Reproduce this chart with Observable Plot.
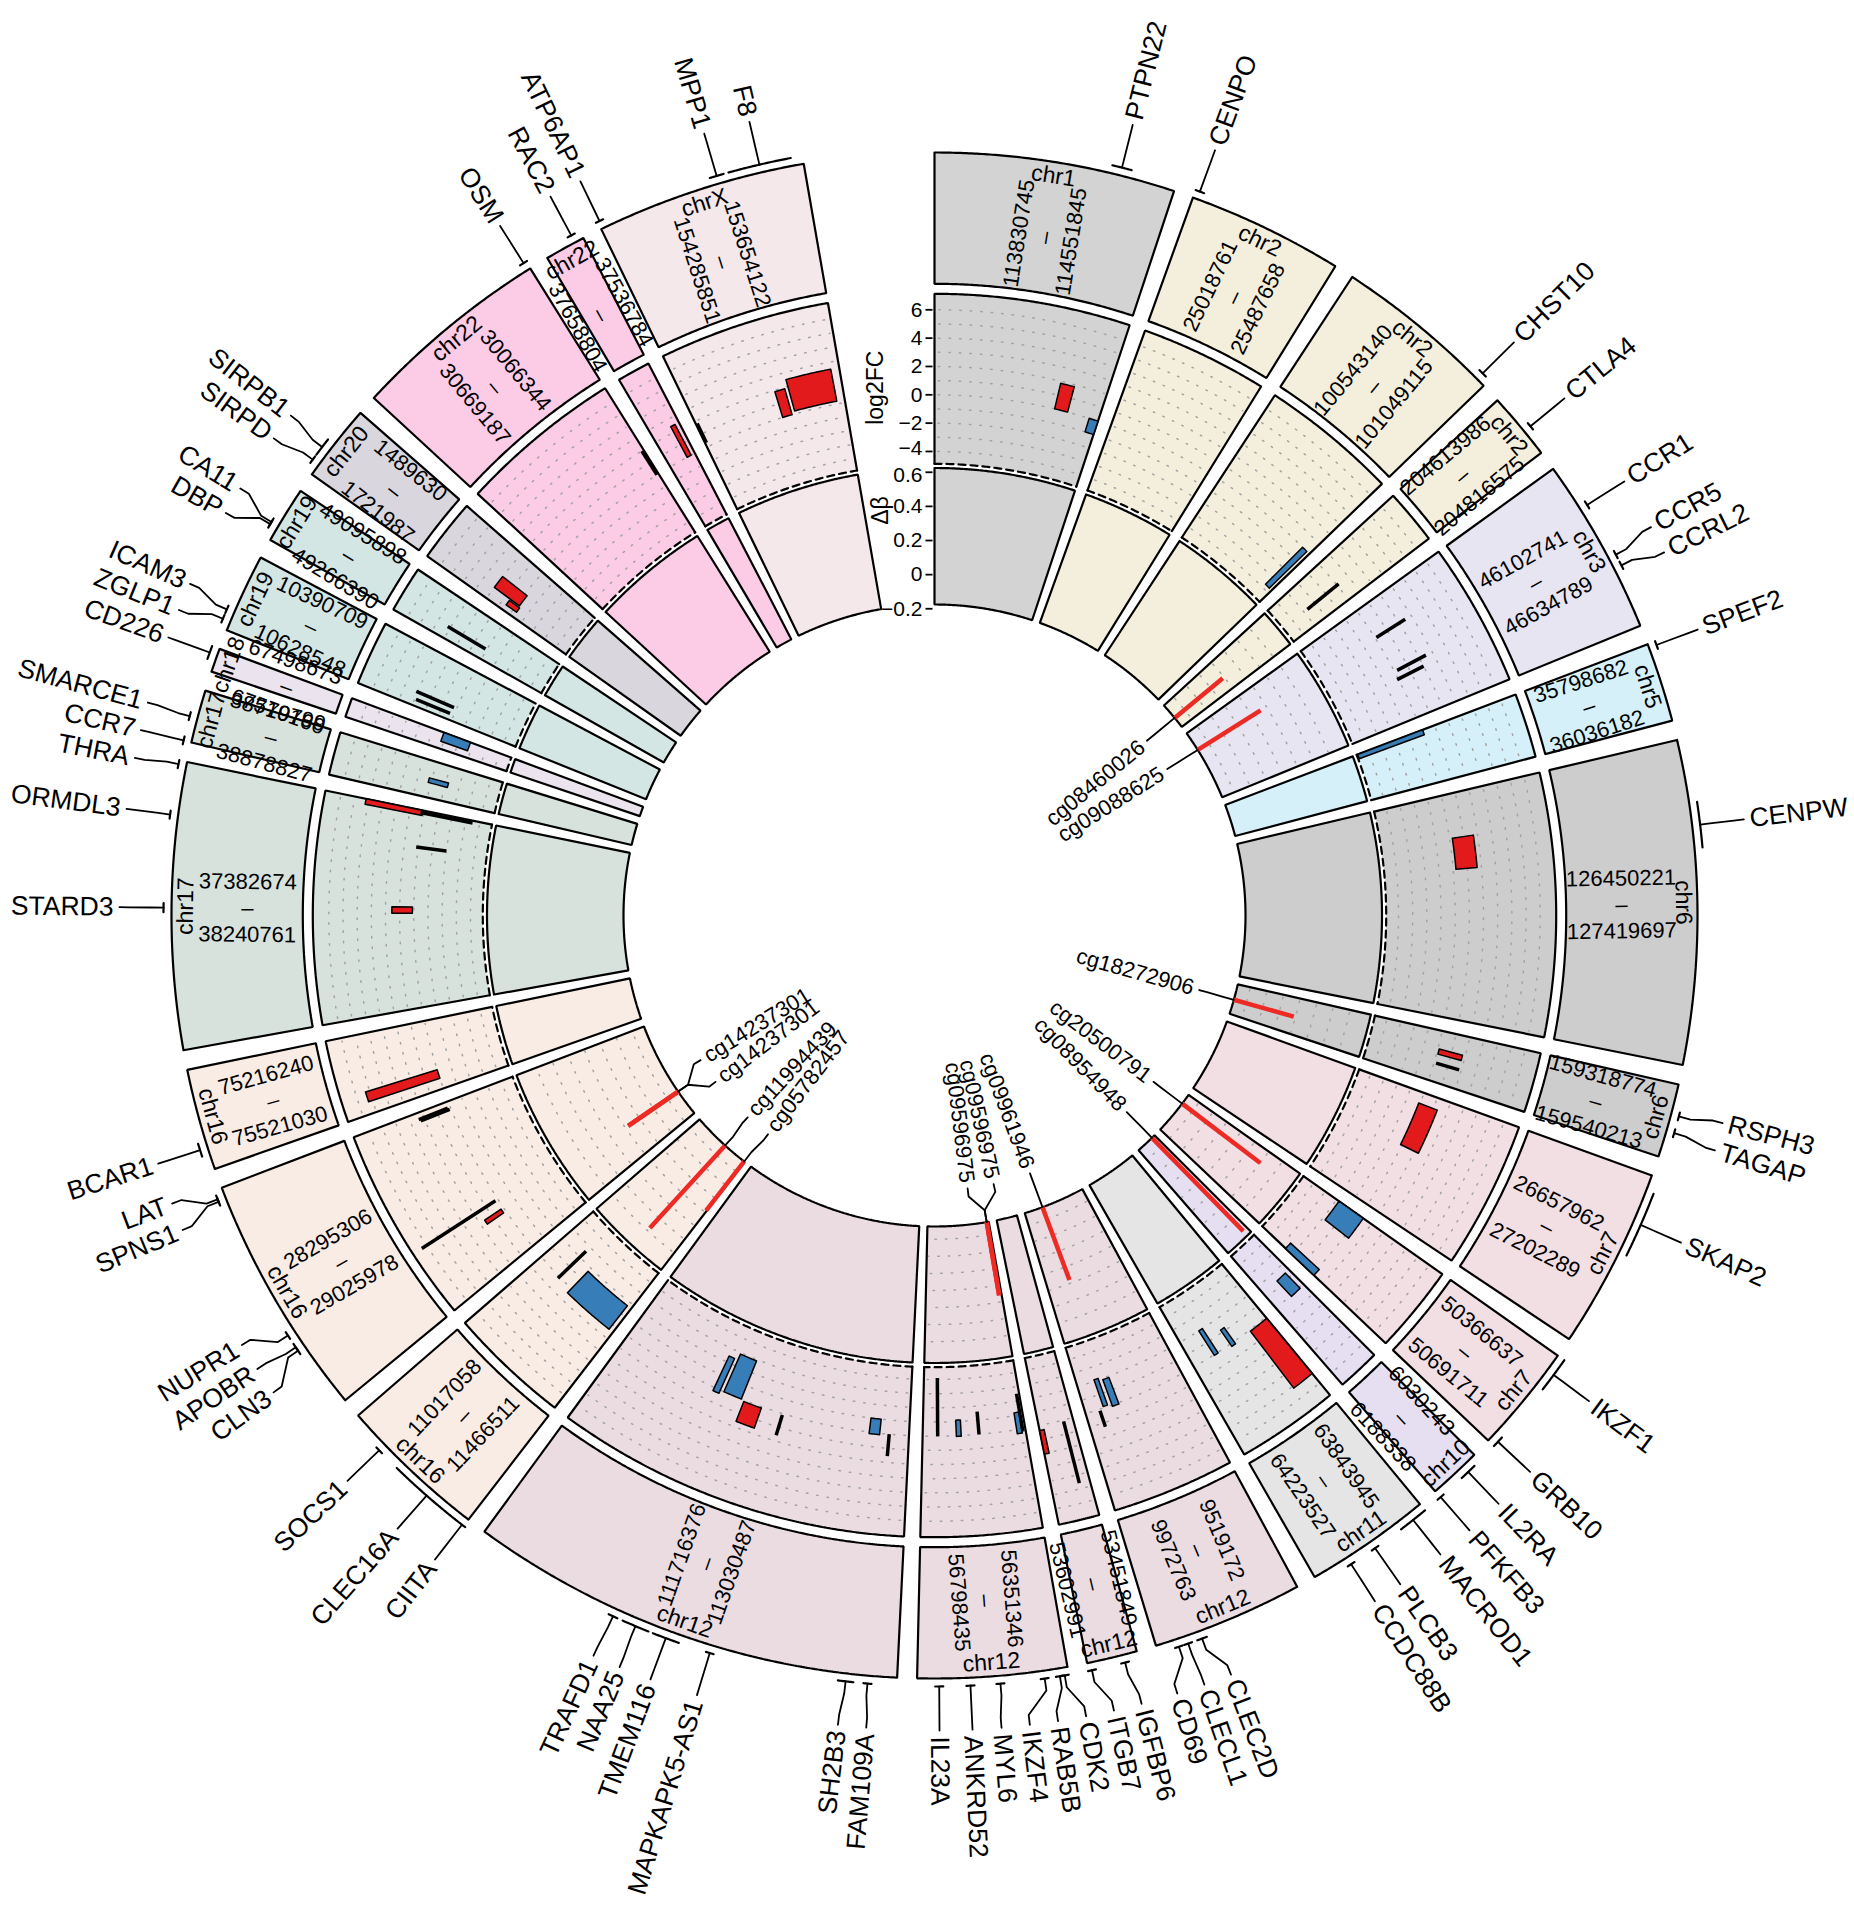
<!DOCTYPE html>
<html>
<head>
<meta charset="utf-8">
<script src="https://cdn.jsdelivr.net/npm/d3@7"></script>
<script src="https://cdn.jsdelivr.net/npm/@observablehq/plot@0.6"></script>
<style>
html,body{margin:0;padding:0;background:#fff;}
#chart svg{display:block;}
</style>
</head>
<body>
<div id="chart"></div>
<script>
// ================= DATA =================
// genomic sectors (ideogram track), clockwise from the top
const sectorChr = ["chr1","chr2","chr2","chr2","chr3","chr5","chr6","chr6","chr7","chr7","chr10","chr11","chr12","chr12","chr12","chr12","chr16","chr16","chr16","chr17","chr17","chr18","chr19","chr19","chr20","chr22","chr22","chrX"];
const sectorStart = [113830745,25018761,100543140,204613986,46102741,35798682,126450221,159318774,26657962,50366637,6030243,63843945,9519172,53451849,56351346,111716376,11017058,28295306,75216240,37382674,38719799,67498673,10390709,49095898,1489630,30066344,37536784,153654122];
const sectorEnd = [114551845,25487658,101049115,204816575,46634789,36036182,127419697,159540213,27202289,50691711,6188338,64223527,9972763,53602991,56798435,113030487,11466511,29025978,75521030,38240761,38878827,67570160,10628548,49266390,1721987,30669187,37658804,154285851];

// gene labels (outside)
const geneName = ["PTPN22","CENPO","CHST10","CTLA4","CCR1","CCR5","CCRL2","SPEF2","CENPW","RSPH3","TAGAP","SKAP2","IKZF1","GRB10","IL2RA","PFKFB3","MACROD1","PLCB3","CCDC88B","CLEC2D","CLECL1","CD69","IGFBP6","ITGB7","CDK2","RAB5B","IKZF4","MYL6","ANKRD52","IL23A","FAM109A","SH2B3","MAPKAPK5-AS1","TMEM116","NAA25","TRAFD1","CIITA","CLEC16A","SOCS1","CLN3","APOBR","NUPR1","SPNS1","LAT","BCAR1","STARD3","ORMDL3","THRA","CCR7","SMARCE1","CD226","ZGLP1","ICAM3","DBP","CA11","SIRPD","SIRPB1","OSM","RAC2","ATP6AP1","MPP1","F8"];
const geneSector = [0,1,2,3,4,4,4,5,6,7,7,8,9,9,10,10,11,11,11,12,12,12,13,13,14,14,14,14,14,14,15,15,15,15,15,15,16,16,16,17,17,17,17,17,18,19,19,19,20,20,21,22,22,23,23,24,24,25,26,27,27,27];
const geneStart = [114356433,25018761,101007575,204732509,46243198,46411633,46448755,35798682,126640000,159398266,159455462,26706880,50366637,50657760,6052652,6186881,63843945,64019000,64107000,9822284,9875431,9905082,53491000,53585102,56360553,56367000,56414000,56551000,56631000,56732000,111798458,111843752,112267000,112369000,112464000,112563000,11017058,11038345,11348000,28488000,28505000,28548000,28985542,28995869,75262928,37793318,38077000,38219067,38719799,38783972,67530192,10415474,10444457,49133297,49139135,1515000,1544548,30658818,37621306,153656000,154006959,154064063];
const geneEnd = [114414381,25045245,101034008,204738683,46249887,46417697,46451678,35821210,126775000,159421220,159466184,26904177,50472799,50691711,6104333,6188338,63933587,64036000,64117000,9852234,9885616,9913497,53496000,53601000,56366568,56389000,56432000,56556000,56652000,56734000,111806166,111889427,112280000,112450000,112546000,112591000,11028549,11276046,11350000,28503000,28510000,28550000,28995869,29001413,75301951,37819737,38083000,38240761,38721738,38804104,67570160,10419942,10450429,49138895,49147699,1538000,1600563,30662829,37640305,153664000,154049282,154250998];

// log2FC track: boxes spanning a genomic range, from low to high log2FC
const rectSector = [0,0,2,5,6,7,8,9,9,10,11,11,11,12,12,13,14,14,15,15,15,15,16,17,18,19,19,20,21,24,24,26,27,27];
const rectStart = [114356433,114512000,101007575,35798682,126640000,159398266,26706880,50366637,50657760,6052652,63843945,64019000,64107000,9822284,9875431,53585102,56367000,56631000,111843752,112369000,112464000,112563000,11038345,28488000,75262928,37793318,38219067,38783972,67530192,1515000,1544548,37621306,154006959,154064063];
const rectEnd = [114414381,114551845,101034008,35821210,126775000,159421220,26904177,50472799,50691711,6104333,63933587,64036000,64117000,9852234,9885616,53601000,56389000,56652000,111889427,112450000,112546000,112591000,11276046,28503000,75301951,37819737,38240761,38804104,67570160,1538000,1600563,37640305,154049282,154250998];
const rectLow = [0,-1.0,-3.7,-4.8,0.2,0.1,-0.1,-1.8,-2.6,-1.4,0.1,-1.2,-2.0,-1.9,-2.1,0.35,-1.2,-1.1,-1.0,0.1,-2.9,-2.45,-1.7,0.2,0,0.1,0.1,-1.2,-1.8,-0.3,-0.2,0,0,0.2];
const rectHigh = [1.85,0,0,0.1,1.7,1.8,1.3,0.3,0.15,0.1,5.15,0.2,0.05,0.1,-0.1,2.05,0.3,0.05,0.1,1.6,0,0.25,0.4,1.6,5.3,1.55,4.2,0.2,0.2,0.6,2.0,2.45,1.9,2.5];

// log2FC track: thin black segments at one position, from low to high
const barSector = [3,4,4,4,7,12,13,14,14,14,15,15,16,17,17,17,19,19,22,22,23,25,27];
const barPos = [204735600,46246500,46414600,46450200,159460800,9909300,53493500,56363500,56553500,56733000,111802300,112273500,11349000,28549000,28990700,28998600,38080000,38230000,10417700,10447400,49143400,30660800,153660000];
const barLow = [-2.7,0.1,0.2,-0.1,0.15,0.1,0.1,-2.5,-1.6,-4.1,0,0.1,-2.6,0.2,0.1,0.2,-2.0,-3.5,0.3,0.2,0.1,0,0.3];
const barHigh = [0.15,2.5,2.5,2.0,1.85,1.3,4.6,0.2,0,0,1.55,1.6,0.15,6.4,2.3,2.4,0.15,0.25,2.9,3.1,3.2,2.0,1.8];

// delta-beta track: CpG probes
const probeName = ["cg08460026","cg09088625","cg18272906","cg20500791","cg08954948","cg09961946","cg09596975","cg09596975","cg05782457","cg11994439","cg14237301","cg14237301"];
const probeSector = [3,4,7,9,10,12,14,14,16,16,17,17];
const probePos = [204733000,46247000,159434000,50445000,6056000,9837000,56366000,56366000,11020000,11201000,28491000,28491000];
const probeDelta = [0.19,0.26,0.19,0.40,0.59,0.28,0.26,0.26,0.19,0.48,0.18,0.18];

// axis ticks and grid
const fcTicks = [-4,-2,0,2,4,6];
const dbTicks = [-0.2,0,0.2,0.4,0.6];
const fcGrid = [-4,-3,-2,-1,0,1,2,3,4,5,6];
const dbGrid = [-0.1,0,0.1,0.2,0.3,0.4,0.5];

// ================= STYLE / LAYOUT =================
const chrFill = {chr1:"#d3d3d3",chr2:"#f4efdc",chr3:"#e7e5f1",chr5:"#d5f0f8",chr6:"#cdcdcd",chr7:"#f1dfe3",chr10:"#e6dff2",chr11:"#e5e5e5",chr12:"#eadce1",chr16:"#f8ece5",chr17:"#d8e2dd",chr18:"#ebe3ed",chr19:"#d3e6e4",chr20:"#d9d7dd",chr22:"#fccbe6",chrX:"#f4e8eb"};
const RED = "#e31a1c", BLUE = "#377eb8", LINE_RED = "#ee2a24";
const FONT = "Liberation Sans, Arial, Helvetica, sans-serif";
const W = 1854, H = 1920, CX = 934, CY = 915;
const R_IDEO = [631.7, 763], R_FC = [451.7, 621.7], R_DB = [311, 447.5];
const FC_LIM = [-4.87, 7.13], DB_LIM = [-0.175, 0.625];
const GAP = 1.5, BIG_GAP = 9.87, START_DEG = 0;

const fcR = d3.scaleLinear(FC_LIM, R_FC);
const dbR = d3.scaleLinear(DB_LIM, R_DB);

const nSec = sectorChr.length;
const secLen = sectorStart.map((s, i) => sectorEnd[i] - s);
const degPerBp = (360 - BIG_GAP - GAP * (nSec - 1)) / d3.sum(secLen);
const secT0 = [];
{ let acc = START_DEG; for (let i = 0; i < nSec; i++) { secT0.push(acc); acc += secLen[i] * degPerBp + GAP; } }
const secT1 = secT0.map((t, i) => t + secLen[i] * degPerBp);
const theta = (i, pos) => secT0[i] + (pos - sectorStart[i]) * degPerBp;

function xy(t, r) { const a = t * Math.PI / 180; return [CX + r * Math.sin(a), CY - r * Math.cos(a)]; }
function arcPts(t0, t1, r, step = 0.2) {
  const n = Math.max(2, Math.ceil(Math.abs(t1 - t0) / step) + 1);
  return d3.range(n).map(k => xy(t0 + (t1 - t0) * k / (n - 1), r));
}
function annulus(t0, t1, r0, r1) {
  const p = [...arcPts(t0, t1, r1), ...arcPts(t1, t0, r0)];
  p.push(p[0]);
  return p;
}
function push(arr, id, pts, extra = {}) { pts.forEach(p => arr.push({id, x: p[0], y: p[1], ...extra})); }

// sector boxes
const fillRows = [], solidRows = [], dashRows = [], gridRows = [];
const probeSectors = new Set(probeSector);
for (let i = 0; i < nSec; i++) {
  const t0 = secT0[i], t1 = secT1[i], fill = chrFill[sectorChr[i]];
  const ideo = annulus(t0, t1, R_IDEO[0], R_IDEO[1]);
  push(fillRows, "i" + i, ideo, {fill}); push(solidRows, "i" + i, ideo);
  const fc = annulus(t0, t1, R_FC[0], R_FC[1]);
  push(fillRows, "f" + i, fc, {fill});
  push(solidRows, "f" + i, [xy(t0, R_FC[0]), ...arcPts(t0, t1, R_FC[1]), xy(t1, R_FC[0])]);
  push(dashRows, "fd" + i, arcPts(t0, t1, R_FC[0]));
  const db = annulus(t0, t1, R_DB[0], R_DB[1]);
  push(fillRows, "d" + i, db, {fill}); push(solidRows, "d" + i, db);
  fcGrid.forEach(v => push(gridRows, `gf${i}_${v}`, arcPts(t0 + 0.4, t1 - 0.3, fcR(v), 0.1)));
  if (probeSectors.has(i)) dbGrid.forEach(v => push(gridRows, `gd${i}_${v}`, arcPts(t0 + 0.4, t1 - 0.3, dbR(v), 0.1)));
}

// log2FC boxes
const rectRows = [];
rectSector.forEach((s, j) => {
  let t0 = theta(s, rectStart[j]), t1 = theta(s, rectEnd[j]);
  if (t1 - t0 < 0.5) { const m = (t0 + t1) / 2; t0 = m - 0.25; t1 = m + 0.25; }
  const fill = (rectHigh[j] + rectLow[j]) >= 0 ? RED : BLUE;
  push(rectRows, "r" + j, annulus(t0, t1, fcR(rectLow[j]), fcR(rectHigh[j])), {fill});
});
// black segments
const barRows = [];
barSector.forEach((s, j) => {
  const t = theta(s, barPos[j]);
  push(barRows, "b" + j, [xy(t, fcR(barLow[j])), xy(t, fcR(barHigh[j]))]);
});
// delta-beta lines (from the bottom of the track)
const probeRows = [];
probeSector.forEach((s, j) => {
  const t = theta(s, probePos[j]);
  push(probeRows, "p" + j, [xy(t, R_DB[0]), xy(t, dbR(probeDelta[j]))]);
});

// label spreading
function spread(targets, minSep) {
  const pos = targets.slice();
  for (let it = 0; it < 2000; it++) {
    let moved = false;
    for (let i = 1; i < pos.length; i++) {
      const d = pos[i] - pos[i - 1];
      if (d < minSep - 1e-6) { const s = (minSep - d) / 2 + 1e-4; pos[i - 1] -= s; pos[i] += s; moved = true; }
    }
    if (!moved) break;
  }
  return pos;
}

// outer gene labels
const geneIdx = d3.range(geneName.length);
const gT = geneIdx.map(g => theta(geneSector[g], (geneStart[g] + geneEnd[g]) / 2));
geneIdx.sort((a, b) => gT[a] - gT[b]);
const gL = spread(geneIdx.map(g => gT[g]), 2.0);
const connRows = [], spanRows = [], outerText = [];
geneIdx.forEach((g, k) => {
  const tt = gT[g], tl = gL[k];
  let a0 = theta(geneSector[g], geneStart[g]), a1 = theta(geneSector[g], geneEnd[g]);
  if (a1 - a0 < 0.6) { a0 = tt - 0.3; a1 = tt + 0.3; }
  push(spanRows, "s" + g, arcPts(a0, a1, 771, 0.1));
  push(connRows, "c" + g, [xy(tt, 771), xy(tt, 783), xy(tl, 805), xy(tl, 815)]);
  const [x, y] = xy(tl, 821);
  const right = tl < 180;
  outerText.push({x, y, label: geneName[g], rot: right ? tl - 90 : tl - 270, anchor: right ? "start" : "end"});
});

// inner probe labels
const probeIdx = d3.range(probeName.length);
const pT = probeIdx.map(p => theta(probeSector[p], probePos[p]));
probeIdx.sort((a, b) => pT[a] - pT[b]);
const pL = spread(probeIdx.map(p => pT[p]), 5.5);
const innerConn = [], innerText = [];
probeIdx.forEach((p, k) => {
  const tt = pT[p], tl = pL[k];
  push(innerConn, "ic" + k, [xy(tt, 311), xy(tt, 299), xy(tl, 283), xy(tl, 275)]);
  const [x, y] = xy(tl, 269);
  const right = tl < 180;
  innerText.push({x, y, label: probeName[p], rot: right ? tl - 90 : tl - 270, anchor: right ? "end" : "start"});
});

// ideogram texts
const rangeText = [], chrText = [];
for (let i = 0; i < nSec; i++) {
  const tm = (secT0[i] + secT1[i]) / 2;
  const [x, y] = xy(tm, 687);
  rangeText.push({x, y, label: `${sectorStart[i]}\n–\n${sectorEnd[i]}`, rot: tm < 180 ? tm - 90 : tm - 270});
  const [cx, cy] = xy(tm, 749);
  chrText.push({x: cx, y: cy, label: sectorChr[i], rot: (tm > 90 && tm < 270) ? tm - 180 : tm});
}

// y axes at the start of the first sector
const fmt = v => (v < 0 ? "\u2212" : "") + String(Math.abs(v));
const tickRows = [], tickText = [];
const fcMin = d3.min(fcTicks), dbMax = d3.max(dbTicks);
fcTicks.forEach(v => { const [x, y] = xy(0, fcR(v)); tickRows.push({x1: x - 9, x2: x - 2, y}); tickText.push({x: x - 12, y: y - (v === fcMin ? 3 : 0), label: fmt(v)}); });
dbTicks.forEach(v => { const [x, y] = xy(0, dbR(v)); tickRows.push({x1: x - 9, x2: x - 2, y}); tickText.push({x: x - 12, y: y + (v === dbMax ? 3 : 0), label: fmt(v)}); });
const axisTitles = [
  {x: xy(0, fcR(0.5))[0] - 59, y: xy(0, fcR(0.5))[1], label: "log2FC"},
  {x: xy(0, dbR(0.376))[0] - 54, y: xy(0, dbR(0.376))[1], label: "Δβ"}
];

const chart = Plot.plot({
  width: W, height: H, margin: 0,
  x: {domain: [0, W], range: [0, W], axis: null},
  y: {domain: [0, H], range: [0, H], axis: null},
  color: {type: "identity"},
  style: {background: "#fff", fontFamily: FONT},
  marks: [
    Plot.line(fillRows, {x: "x", y: "y", z: "id", fill: "fill", stroke: "none", curve: "linear"}),
    Plot.line(gridRows, {x: "x", y: "y", z: "id", stroke: "#a3a3a3", strokeWidth: 1.5, strokeDasharray: "1.5,9"}),
    Plot.line(solidRows, {x: "x", y: "y", z: "id", stroke: "#000", strokeWidth: 2.2, strokeLinejoin: "miter"}),
    Plot.line(dashRows, {x: "x", y: "y", z: "id", stroke: "#000", strokeWidth: 2.2, strokeDasharray: "7,5"}),
    Plot.line(rectRows, {x: "x", y: "y", z: "id", fill: "fill", stroke: "#000", strokeWidth: 1.5}),
    Plot.line(barRows, {x: "x", y: "y", z: "id", stroke: "#000", strokeWidth: 3.5, strokeLinecap: "butt"}),
    Plot.line(probeRows, {x: "x", y: "y", z: "id", stroke: LINE_RED, strokeWidth: 4.5, strokeLinecap: "butt"}),
    Plot.line(spanRows, {x: "x", y: "y", z: "id", stroke: "#000", strokeWidth: 2.2}),
    Plot.line(connRows, {x: "x", y: "y", z: "id", stroke: "#000", strokeWidth: 1.8}),
    Plot.line(innerConn, {x: "x", y: "y", z: "id", stroke: "#000", strokeWidth: 1.8}),
    Plot.text(outerText.filter(d => d.anchor === "start"), {x: "x", y: "y", text: "label", rotate: "rot", textAnchor: "start", fontSize: 26.5, fill: "#000"}),
    Plot.text(outerText.filter(d => d.anchor === "end"), {x: "x", y: "y", text: "label", rotate: "rot", textAnchor: "end", fontSize: 26.5, fill: "#000"}),
    Plot.text(innerText.filter(d => d.anchor === "start"), {x: "x", y: "y", text: "label", rotate: "rot", textAnchor: "start", fontSize: 22, fill: "#000"}),
    Plot.text(innerText.filter(d => d.anchor === "end"), {x: "x", y: "y", text: "label", rotate: "rot", textAnchor: "end", fontSize: 22, fill: "#000"}),
    Plot.text(rangeText, {x: "x", y: "y", text: "label", rotate: "rot", textAnchor: "middle", lineAnchor: "middle", lineHeight: 1.2, fontSize: 22, fill: "#000"}),
    Plot.text(chrText, {x: "x", y: "y", text: "label", rotate: "rot", textAnchor: "middle", fontSize: 23, fill: "#000"}),
    Plot.link(tickRows, {x1: "x1", x2: "x2", y1: "y", y2: "y", stroke: "#000", strokeWidth: 1.8}),
    Plot.text(tickText, {x: "x", y: "y", text: "label", textAnchor: "end", fontSize: 21, fill: "#000"}),
    Plot.text(axisTitles, {x: "x", y: "y", text: "label", rotate: -90, textAnchor: "middle", fontSize: 23, fill: "#000"})
  ]
});
document.getElementById("chart").appendChild(chart);
</script>
</body>
</html>
